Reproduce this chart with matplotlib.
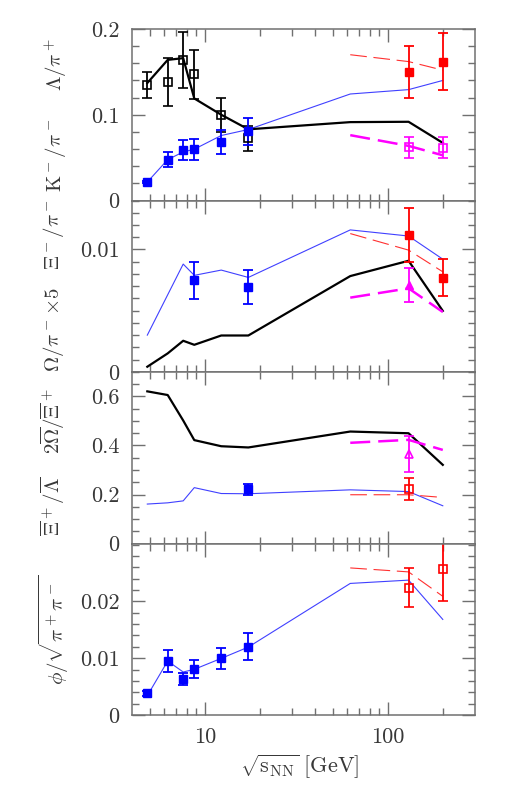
import numpy as np
import matplotlib; matplotlib.use("Agg"); import matplotlib.pyplot as plt
from matplotlib.ticker import FixedLocator, MultipleLocator, NullFormatter

plt.rcParams['mathtext.fontset'] = 'cm'
plt.rcParams['font.family'] = ['cmr10', 'DejaVu Serif']
plt.rcParams['axes.unicode_minus'] = False

# sqrt(s_NN) positions used by the curves/points
x_all = [4.85, 6.27, 7.62, 8.76, 12.3, 17.3, 62.4, 130, 200]
x_sps = [4.85, 6.27, 7.62, 8.76, 12.3, 17.3]
x_rhic = [62.4, 130, 200]

# ---- panel 1: K-/pi- and Lambda/pi+
lam_model = [0.137, 0.164, 0.166, 0.119, 0.100, 0.083, 0.0914, 0.0918, 0.0672]
km_model = [0.0215, 0.0477, 0.0566, 0.0598, 0.0758, 0.0828, 0.1242, 0.1293, 0.140]
lam_rhic_model = [0.170, 0.162, 0.152]
km_rhic_model = [0.0762, 0.0637, 0.0527]
lam_data = [0.135, 0.138, 0.164, 0.147, 0.100, 0.0727]
lam_err = [0.015, 0.028, 0.033, 0.029, 0.020, 0.0145]
km_data = [0.0215, 0.0477, 0.0586, 0.0598, 0.068, 0.0805]
km_err = [0.0015, 0.0090, 0.0118, 0.0120, 0.0137, 0.016]
x_star = [130, 200]
lam_star = [0.150, 0.162]
lam_star_err = [0.030, 0.033]
km_star = [0.0621, 0.0617]
km_star_err = [0.0125, 0.0127]

# ---- panel 2: Xi-/pi- and Omega/pi- x5
xi_x = [4.85, 7.62, 8.76, 12.3, 17.3, 62.4, 130, 200]
xi_model = [0.00301, 0.00881, 0.00789, 0.00832, 0.00772, 0.0116, 0.0111, 0.00921]
om_model = [0.00043, 0.00152, 0.00255, 0.00222, 0.00298, 0.00298, 0.00783, 0.00908, 0.00499]
xi_rhic_model = [0.0113, 0.00995, 0.00818]
om_rhic_model = [0.00607, 0.00683, 0.0049]
xi_data_x = [8.76, 17.3]
xi_data = [0.00748, 0.00694]
xi_data_err = [0.0015, 0.0014]
xi_star = [0.01117, 0.0077]
xi_star_err = [0.00222, 0.00153]
om_star_x = [130]
om_star = [0.0071]
om_star_err = [0.0014]

# ---- panel 3: 2 Omegabar/Xibar+ and Xibar+/Lambdabar
omxi_model = [0.621, 0.606, 0.502, 0.422, 0.397, 0.392, 0.457, 0.450, 0.321]
omxi_rhic_model = [0.411, 0.423, 0.382]
xil_model = [0.161, 0.166, 0.174, 0.228, 0.204, 0.203, 0.219, 0.212, 0.154]
xil_rhic_model = [0.199, 0.199, 0.188]
xil_data_x = [17.3]
xil_data = [0.222]
xil_data_err = [0.022]
xil_star_x = [130]
xil_star = [0.223]
xil_star_err = [0.045]
omxi_star_x = [130]
omxi_star = [0.364]
omxi_star_err = [0.073]

# ---- panel 4: phi/sqrt(pi+ pi-)
phi_model = [0.0034, 0.0095, 0.00757, 0.00804, 0.00997, 0.01196, 0.02317, 0.02375, 0.01683]
phi_rhic_model = [0.0259, 0.0252, 0.0209]
phi_data = [0.0038, 0.00956, 0.00633, 0.0081, 0.00997, 0.0120]
phi_err = [0.0004, 0.0019, 0.0011, 0.0016, 0.0019, 0.0024]
phi_star = [0.0224, 0.0257]
phi_star_err = [0.0034, 0.0056]

ylims = [0.2, 0.014, 0.7, 0.0302]
ymajor = [[0, 0.1, 0.2], [0, 0.01], [0, 0.2, 0.4, 0.6], [0, 0.01, 0.02]]
ylabels_tk = [["0", "0.1", "0.2"], ["0", "0.01"], ["0", "0.2", "0.4", "0.6"], ["0", "0.01", "0.02"]]
yminor = [0.02, 0.001, 0.05, 0.002]

W, H = 518, 805
fig = plt.figure(figsize=(W/100, H/100), dpi=100)
left, right, top, bot = 132, 475, 29, 715
ph = (bot - top) / 4.0
axes = []
for i in range(4):
    ax = fig.add_axes([left/W, 1 - (top + (i+1)*ph)/H, (right-left)/W, ph/H])
    axes.append(ax)

gray = "#707070"
for i, ax in enumerate(axes):
    ax.set_xscale("log")
    ax.set_xlim(4, 300)
    ax.set_ylim(0, ylims[i])
    ax.xaxis.set_major_locator(FixedLocator([10, 100]))
    ax.xaxis.set_minor_locator(FixedLocator([5, 6, 7, 8, 9, 20, 30, 40, 50, 60, 70, 80, 90, 200]))
    ax.xaxis.set_minor_formatter(NullFormatter())
    if i == 3:
        ax.set_xticklabels(["10", "100"])
    else:
        ax.set_xticklabels([])
    ax.yaxis.set_major_locator(FixedLocator(ymajor[i]))
    ax.set_yticklabels(ylabels_tk[i])
    ax.yaxis.set_minor_locator(MultipleLocator(yminor[i]))
    ax.tick_params(which="both", direction="in", top=True, right=True, color=gray,
                   labelcolor="#383838", labelsize=16, width=1.0)
    ax.tick_params(which="major", length=9.5, pad=9)
    ax.tick_params(which="minor", length=5)
    for s in ax.spines.values():
        s.set_color(gray); s.set_linewidth(1.1)

kw_thin = dict(color="#4040ff", lw=0.8)
kw_black = dict(color="black", lw=1.6)
kw_red = dict(color="#ff3030", lw=0.8, dashes=(15, 6))
kw_mag = dict(color="magenta", lw=1.8, dashes=(8, 3.2))
eb = dict(capsize=3.3, elinewidth=1.3, capthick=1.3, ls="none", ms=5.5)

# panel 1
ax = axes[0]
ax.plot(x_all, km_model, **kw_thin)
ax.plot(x_all, lam_model, **kw_black)
ax.plot(x_rhic, lam_rhic_model, **kw_red)
ax.plot(x_rhic, km_rhic_model, **kw_mag)
ax.errorbar(x_sps, lam_data, yerr=lam_err, marker="s", mfc="none", mec="black", mew=1.2, color="black", **eb)
ax.errorbar(x_sps, km_data, yerr=km_err, marker="s", color="blue", **eb)
ax.errorbar(x_star, lam_star, yerr=lam_star_err, marker="s", color="red", **eb)
ax.errorbar(x_star, km_star, yerr=km_star_err, marker="s", mfc="none", mec="magenta", mew=1.2, color="magenta", **eb)

# panel 2
ax = axes[1]
ax.plot(xi_x, xi_model, **kw_thin)
ax.plot(x_all, om_model, **kw_black)
ax.plot(x_rhic, xi_rhic_model, **kw_red)
ax.plot(x_rhic, om_rhic_model, **kw_mag)
ax.errorbar(xi_data_x, xi_data, yerr=xi_data_err, marker="s", color="blue", **eb)
ax.errorbar(x_star, xi_star, yerr=xi_star_err, marker="s", color="red", **eb)
ax.errorbar(om_star_x, om_star, yerr=om_star_err, marker="^", color="magenta", **eb)

# panel 3
ax = axes[2]
ax.plot(x_all, omxi_model, **kw_black)
ax.plot(x_rhic, omxi_rhic_model, **kw_mag)
ax.plot(x_all, xil_model, **kw_thin)
ax.plot(x_rhic, xil_rhic_model, **kw_red)
ax.errorbar(xil_data_x, xil_data, yerr=xil_data_err, marker="s", color="blue", **eb)
ax.errorbar(xil_star_x, xil_star, yerr=xil_star_err, marker="s", mfc="none", mec="red", mew=1.2, color="red", **eb)
ax.errorbar(omxi_star_x, omxi_star, yerr=omxi_star_err, marker="^", mfc="none", mec="magenta", mew=1.2, color="magenta", **eb)

# panel 4
ax = axes[3]
ax.plot(x_all, phi_model, **kw_thin)
ax.plot(x_rhic, phi_rhic_model, **kw_red)
ax.errorbar(x_sps, phi_data, yerr=phi_err, marker="s", color="blue", **eb)
ax.errorbar(x_star, phi_star, yerr=phi_star_err, marker="s", mfc="none", mec="red", mew=1.2, color="red", **eb)

# y labels (two per panel)
lab = dict(rotation=90, ha="center", va="center", fontsize=15, color="#383838")
fig.text(56/W, 1 - 64/H, r"$\Lambda/\pi^+$", **lab)
fig.text(56/W, 1 - 155/H, r"$\mathrm{K}^-/\pi^-$", **lab)
fig.text(53/W, 1 - 234/H, r"$\Xi^-/\pi^-$", **lab)
fig.text(53/W, 1 - 329/H, r"$\Omega/\pi^-\!\times\!5$", **lab)
fig.text(53/W, 1 - 421/H, r"$2\overline{\Omega}/\overline{\Xi}^+$", **lab)
fig.text(53/W, 1 - 506/H, r"$\overline{\Xi}^+/\overline{\Lambda}$", **lab)
fig.text(54/W, 1 - 630/H, r"$\phi/\sqrt{\pi^+\pi^-}$", **lab)
fig.text(300/W, 1 - 767/H, r"$\sqrt{\mathrm{s}_{\mathrm{NN}}}\ [\mathrm{GeV}]$",
         ha="center", va="center", fontsize=16, color="#383838")

fig.savefig("out.png", dpi=100)
